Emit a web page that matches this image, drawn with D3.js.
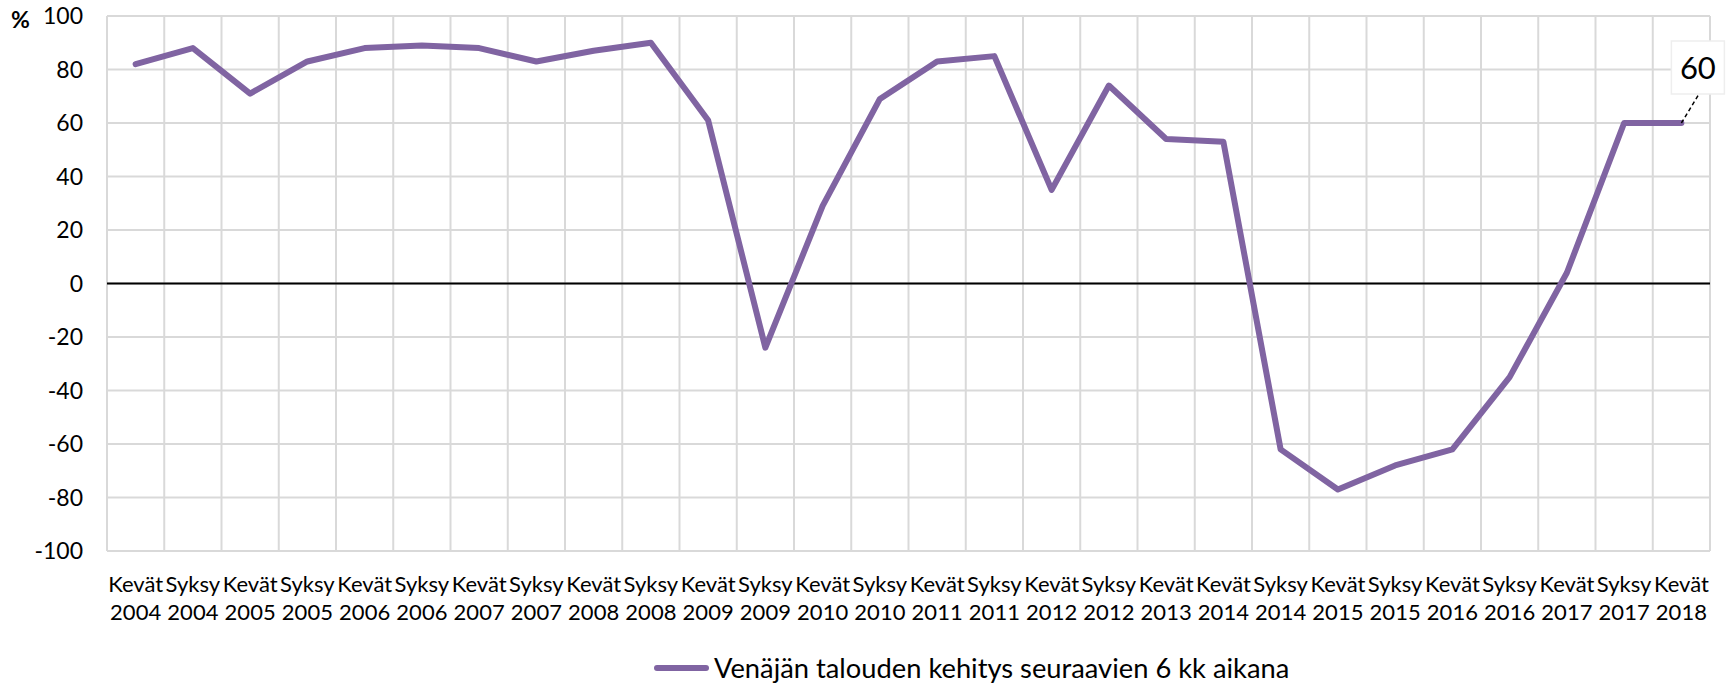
<!DOCTYPE html>
<meta charset="utf-8">
<head>
<style>
body { margin: 0; background: #fff; }
svg text { font-family: Lato, "Open Sans", sans-serif; fill: #000; }
.grid line { stroke: #d9d9d9; stroke-width: 2; }
.tick-y { font-size: 23px; text-anchor: end; }
.tick-x { font-size: 22px; text-anchor: middle; }
</style>
</head>
<body>
<svg width="1727" height="687"></svg>
<script src="https://cdn.jsdelivr.net/npm/d3@7"></script>
<script>

var seasons = ["Kevät","Syksy","Kevät","Syksy","Kevät","Syksy","Kevät","Syksy","Kevät","Syksy",
               "Kevät","Syksy","Kevät","Syksy","Kevät","Syksy","Kevät","Syksy","Kevät","Kevät",
               "Syksy","Kevät","Syksy","Kevät","Syksy","Kevät","Syksy","Kevät"];
var years = [2004,2004,2005,2005,2006,2006,2007,2007,2008,2008,
             2009,2009,2010,2010,2011,2011,2012,2012,2013,2014,
             2014,2015,2015,2016,2016,2017,2017,2018];
var values = [82,88,71,83,88,89,88,83,87,90,
              61,-24,29,69,83,85,35,74,54,53,
              -62,-77,-68,-62,-35,4,60,60];
var yTicks = [-100,-80,-60,-40,-20,0,20,40,60,80,100];
var seriesName = "Venäjän talouden kehitys seuraavien 6 kk aikana";

var svg = d3.select("svg");
var plotLeft = 107, plotRight = 1710, plotTop = 16, plotBottom = 551;

var keys = values.map(function(d, i) { return i; });
var x = d3.scaleBand().domain(keys).range([plotLeft, plotRight]);
var y = d3.scaleLinear().domain([-100, 100]).range([plotBottom, plotTop]);

var grid = svg.append("g").attr("class", "grid");
grid.selectAll(".h").data(yTicks).enter().append("line")
    .attr("x1", plotLeft).attr("x2", plotRight)
    .attr("y1", function(d) { return y(d); }).attr("y2", function(d) { return y(d); });
grid.selectAll(".v").data(keys.concat([keys.length])).enter().append("line")
    .attr("x1", function(d) { return d < keys.length ? x(d) : plotRight; })
    .attr("x2", function(d) { return d < keys.length ? x(d) : plotRight; })
    .attr("y1", plotTop).attr("y2", plotBottom);

// zero line
svg.append("line")
    .attr("x1", plotLeft).attr("x2", plotRight)
    .attr("y1", y(0)).attr("y2", y(0))
    .attr("stroke", "#000").attr("stroke-width", 2);

svg.selectAll(".tick-y").data(yTicks).enter().append("text")
    .attr("class", "tick-y")
    .attr("x", 83)
    .attr("y", function(d) { return y(d); })
    .attr("dy", "0.36em")
    .text(function(d) { return d; });

svg.append("text")
    .attr("x", 11).attr("y", 28)
    .attr("font-size", 23).attr("font-weight", "bold")
    .text("%");

var xl = svg.selectAll(".tick-x").data(keys).enter().append("text")
    .attr("class", "tick-x")
    .attr("transform", function(d) { return "translate(" + (x(d) + x.bandwidth() / 2) + ",0)"; });
xl.append("tspan").attr("x", 0).attr("y", 592).text(function(d) { return seasons[d]; });
xl.append("tspan").attr("x", 0).attr("y", 620).text(function(d) { return years[d]; });

var line = d3.line()
    .x(function(d, i) { return x(i) + x.bandwidth() / 2; })
    .y(function(d) { return y(d); });

svg.append("path")
    .datum(values)
    .attr("fill", "none")
    .attr("stroke", "#8064a2")
    .attr("stroke-width", 6)
    .attr("stroke-linejoin", "round")
    .attr("stroke-linecap", "round")
    .attr("d", line);

// data label for the last point
var last = values.length - 1,
    lx = x(last) + x.bandwidth() / 2,
    ly = y(values[last]);
svg.append("line")
    .attr("x1", lx).attr("y1", ly)
    .attr("x2", lx + 17).attr("y2", ly - 28)
    .attr("stroke", "#000").attr("stroke-width", 1.5)
    .attr("stroke-dasharray", "4,3");
svg.append("rect")
    .attr("x", lx - 10).attr("y", ly - 82)
    .attr("width", 53).attr("height", 53)
    .attr("fill", "#fff").attr("stroke", "#eeeeee").attr("stroke-width", 1.5);
svg.append("text")
    .attr("x", lx + 16.5).attr("y", ly - 44)
    .attr("text-anchor", "middle")
    .attr("font-size", 31)
    .text(values[last]);

// legend
svg.append("line")
    .attr("x1", 657).attr("x2", 706)
    .attr("y1", 668).attr("y2", 668)
    .attr("stroke", "#8064a2").attr("stroke-width", 6)
    .attr("stroke-linecap", "round");
svg.append("text")
    .attr("x", 714).attr("y", 678)
    .attr("font-size", 27.3)
    .text(seriesName);

</script>
</body>
